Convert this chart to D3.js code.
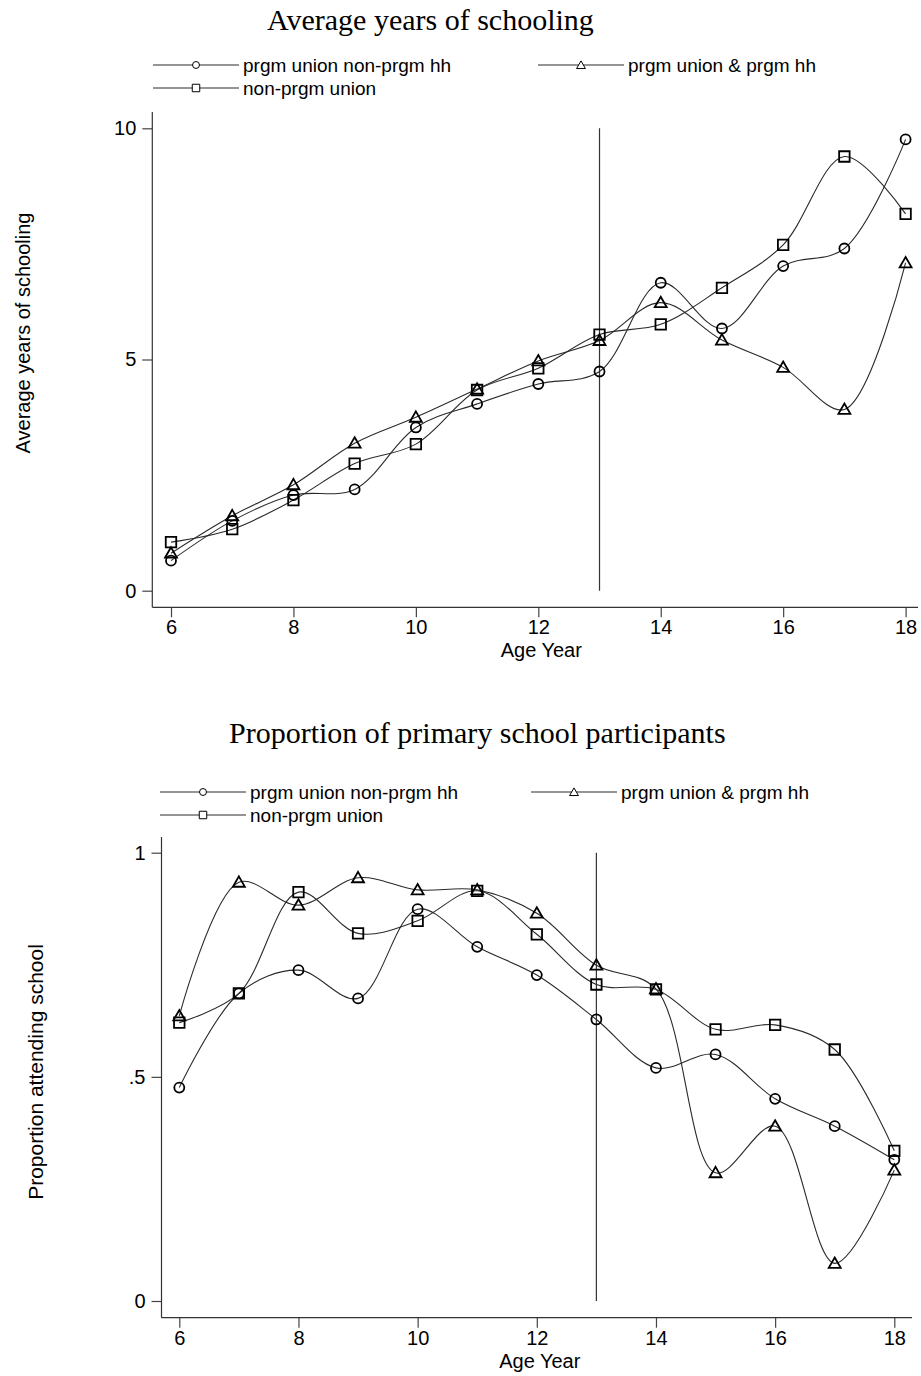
<!DOCTYPE html>
<html>
<head>
<meta charset="utf-8">
<script src="https://cdn.jsdelivr.net/npm/d3@7"></script>
<style>
  body { margin: 0; background: #fff; }
  svg { display: block; }
  .tick text { font-family: "Liberation Sans", Arial, sans-serif; }
</style>
</head>
<body>
<svg id="chart" width="921" height="1376"></svg>
<script>
// ages on the x axis
var ages = [6, 7, 8, 9, 10, 11, 12, 13, 14, 15, 16, 17, 18];
var ageTicks = [6, 8, 10, 12, 14, 16, 18];
var cutoffAge = 13;

// series names
var seriesNames = ['prgm union non-prgm hh', 'prgm union & prgm hh', 'non-prgm union'];
var seriesSymbols = ['circle', 'triangle', 'square'];

// panel 1 - average years of schooling
var yrsNonPrgmHh = [0.65, 1.51, 2.07, 2.19, 3.53, 4.04, 4.47, 4.74, 6.66, 5.67, 7.02, 7.40, 9.76];
var yrsPrgmHh    = [0.81, 1.62, 2.29, 3.19, 3.75, 4.36, 4.97, 5.41, 6.23, 5.42, 4.83, 3.92, 7.09];
var yrsNonUnion  = [1.05, 1.33, 1.96, 2.75, 3.17, 4.34, 4.81, 5.54, 5.76, 6.55, 7.48, 9.39, 8.15];
var yrsTicks = [0, 5, 10];

// panel 2 - proportion attending school
var propNonPrgmHh = [0.476, 0.686, 0.738, 0.675, 0.874, 0.790, 0.727, 0.628, 0.520, 0.550, 0.451, 0.390, 0.315];
var propPrgmHh    = [0.636, 0.934, 0.883, 0.944, 0.917, 0.917, 0.865, 0.749, 0.696, 0.286, 0.390, 0.084, 0.292];
var propNonUnion  = [0.621, 0.686, 0.912, 0.820, 0.848, 0.915, 0.818, 0.706, 0.695, 0.606, 0.616, 0.561, 0.335];
var propTicks = [0, 0.5, 1];

var svg = d3.select('#chart');
var sans = '"Liberation Sans", Arial, sans-serif';
var serif = '"Liberation Serif", "Times New Roman", serif';
var lineColor = '#2a2a2a';

function symbolPath(name, big) {
	var type = name === 'circle' ? d3.symbolCircle : (name === 'square' ? d3.symbolSquare : d3.symbolTriangle);
	var size;
	if (name === 'circle') size = big ? Math.PI * 25 : Math.PI * 12;
	else if (name === 'square') size = big ? 110 : 56;
	else size = big ? 62 : 34;
	return d3.symbol().type(type).size(size)();
}

function drawPanel(p) {
	var g = svg.append('g');

	var x = d3.scaleLinear().domain([6, 18]).range([p.x6, p.x18]);
	var y = d3.scaleLinear().domain(p.yDomain).range([p.y0, p.yTop]);

	// title
	g.append('text')
		.attr('x', p.titleX).attr('y', p.titleY)
		.attr('font-family', serif).attr('font-size', 30)
		.attr('fill', '#000')
		.text(p.title);

	// legend
	var legendPos = [
		{lx: p.legX1, ly: p.legY1},
		{lx: p.legX2, ly: p.legY1},
		{lx: p.legX1, ly: p.legY2}
	];
	seriesNames.forEach(function(name, i){
		var lp = legendPos[i];
		var lg = g.append('g').attr('transform', 'translate(' + lp.lx + ',' + lp.ly + ')');
		lg.append('line')
			.attr('x1', 0).attr('x2', 86).attr('y1', 0).attr('y2', 0)
			.attr('stroke', lineColor).attr('stroke-width', 1);
		lg.append('path')
			.attr('d', symbolPath(seriesSymbols[i], false))
			.attr('transform', 'translate(43,' + (seriesSymbols[i] === 'triangle' ? 1 : 0) + ')')
			.attr('fill', '#fff').attr('stroke', '#000').attr('stroke-width', 1);
		lg.append('text')
			.attr('x', 90).attr('y', 0).attr('dy', '0.36em')
			.attr('font-family', sans).attr('font-size', 19)
			.text(name);
	});

	// axes
	var yAxis = d3.axisLeft(y).tickValues(p.yTicks).tickSize(10).tickPadding(6).tickFormat(p.yFormat);
	var xAxis = d3.axisBottom(x).tickValues(ageTicks).tickSize(10).tickPadding(3).tickFormat(d3.format('d'));

	var ya = g.append('g')
		.attr('transform', 'translate(' + p.axisX + ',0)')
		.call(yAxis);
	ya.select('.domain').remove();
	ya.append('line')
		.attr('x1', 0).attr('x2', 0).attr('y1', p.axisTop).attr('y2', p.axisY)
		.attr('stroke', '#333').attr('stroke-width', 1.2);

	var xa = g.append('g')
		.attr('transform', 'translate(0,' + p.axisY + ')')
		.call(xAxis);
	xa.select('.domain').remove();
	xa.append('line')
		.attr('x1', p.axisX).attr('x2', p.axisRight).attr('y1', 0).attr('y2', 0)
		.attr('stroke', '#333').attr('stroke-width', 1.2);

	[ya, xa].forEach(function(a){
		a.selectAll('.tick line').attr('stroke', '#444').attr('stroke-width', 1.2);
		a.selectAll('.tick text').attr('font-size', 20).attr('fill', '#000').attr('font-family', sans);
	});

	// axis titles
	g.append('text')
		.attr('x', (p.x6 + p.x18) / 2 + 3).attr('y', p.axisY + 50)
		.attr('text-anchor', 'middle')
		.attr('font-family', sans).attr('font-size', 20)
		.text('Age Year');

	g.append('text')
		.attr('transform', 'translate(' + p.yTitleX + ',' + p.yTitleY + ') rotate(-90)')
		.attr('text-anchor', 'middle')
		.attr('font-family', sans).attr('font-size', p.yTitleSize)
		.text(p.yTitle);

	// cut-off line at age 13
	g.append('line')
		.attr('x1', x(cutoffAge)).attr('x2', x(cutoffAge))
		.attr('y1', y(p.yDomain[0])).attr('y2', y(p.yDomain[1]))
		.attr('stroke', '#333').attr('stroke-width', 1.2);

	// series lines
	var line = d3.line()
		.x(function(d){ return x(d[0]); })
		.y(function(d){ return y(d[1]); })
		.curve(d3.curveCatmullRom.alpha(0.5));

	p.series.forEach(function(vals, i){
		var pts = ages.map(function(a, j){ return [a, vals[j]]; });
		g.append('path')
			.datum(pts)
			.attr('d', line)
			.attr('fill', 'none')
			.attr('stroke', lineColor)
			.attr('stroke-width', 1.1);
	});

	// markers
	p.series.forEach(function(vals, i){
		var sym = seriesSymbols[i];
		g.selectAll('.m' + i)
			.data(ages.map(function(a, j){ return [a, vals[j]]; }))
			.enter().append('path')
			.attr('class', 'm' + i)
			.attr('d', symbolPath(sym, true))
			.attr('transform', function(d){
				return 'translate(' + x(d[0]) + ',' + (y(d[1]) + (sym === 'triangle' ? 1 : 0)) + ')';
			})
			.attr('fill', 'none')
			.attr('stroke', '#000')
			.attr('stroke-width', 1.8);
	});
}

drawPanel({
	title: 'Average years of schooling',
	titleX: 267, titleY: 30,
	legX1: 153, legX2: 538, legY1: 65, legY2: 88,
	x6: 171, x18: 905.6,
	y0: 590.7, yTop: 128.3,
	yDomain: [0, 10], yTicks: yrsTicks,
	yFormat: d3.format('d'),
	axisX: 152.3, axisY: 607.3, axisTop: 112, axisRight: 918,
	yTitle: 'Average years of schooling', yTitleX: 30, yTitleY: 333, yTitleSize: 20,
	series: [yrsNonPrgmHh, yrsPrgmHh, yrsNonUnion]
});

drawPanel({
	title: 'Proportion of primary school participants',
	titleX: 229, titleY: 743,
	legX1: 160, legX2: 531, legY1: 792, legY2: 815,
	x6: 179.3, x18: 894.3,
	y0: 1301, yTop: 852.7,
	yDomain: [0, 1], yTicks: propTicks,
	yFormat: function(d){ return d === 0.5 ? '.5' : String(d); },
	axisX: 161.5, axisY: 1317.7, axisTop: 837, axisRight: 912,
	yTitle: 'Proportion attending school', yTitleX: 43, yTitleY: 1072, yTitleSize: 21,
	series: [propNonPrgmHh, propPrgmHh, propNonUnion]
});
</script>
</body>
</html>
